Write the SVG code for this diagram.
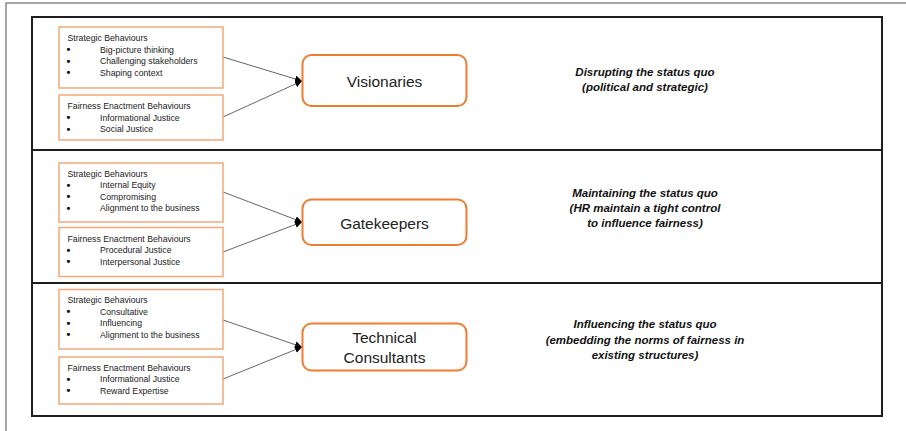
<svg xmlns="http://www.w3.org/2000/svg" width="906" height="431" viewBox="0 0 906 431">
<style>
.frame{fill:none;stroke:#8a8a8a;stroke-width:1.5}
.main{fill:none;stroke:#1e1e1e;stroke-width:2}
.sep{stroke:#1e1e1e;stroke-width:2}
.sbox{fill:#fff;stroke:#F2A878;stroke-width:1.5}
.node{fill:#fff;stroke:#ED7D31;stroke-width:2}
.st{font-family:"Liberation Sans",Arial,sans-serif;font-size:8.7px;fill:#222}
.bu{font-family:"Liberation Sans",Arial,sans-serif;font-size:11px;font-weight:bold;fill:#111}
.nt{font-family:"Liberation Sans",Arial,sans-serif;font-size:15.5px;fill:#222;text-anchor:middle}
.it{font-family:"Liberation Sans",Arial,sans-serif;font-size:11.5px;font-weight:bold;font-style:italic;fill:#111;text-anchor:middle}
.conn{stroke:#666;stroke-width:1;fill:none;marker-end:url(#ah)}
</style>
<defs>
<marker id="ah" viewBox="0 0 10 10" refX="10" refY="5" markerWidth="7" markerHeight="7" markerUnits="userSpaceOnUse" orient="auto">
<path d="M0,0 L10,5 L0,10 z" fill="#000"/>
</marker>
</defs>
<rect width="906" height="431" fill="#fff"/>
<rect class="frame" x="6" y="3" width="910" height="440"/>
<rect class="main" x="32" y="17" width="850" height="399"/>
<line class="sep" x1="32" y1="150" x2="882" y2="150"/>
<line class="sep" x1="32" y1="283" x2="882" y2="283"/>

<g id="connectors">
<line class="conn" x1="223" y1="57" x2="302" y2="81"/>
<line class="conn" x1="223" y1="117" x2="302" y2="81"/>
<line class="conn" x1="223" y1="192" x2="302" y2="222"/>
<line class="conn" x1="223" y1="252" x2="302" y2="222"/>
<line class="conn" x1="223" y1="320" x2="302" y2="347"/>
<line class="conn" x1="223" y1="379" x2="302" y2="347"/>
</g>

<g id="s1-strategic">
<rect class="sbox" x="59" y="27" width="164" height="61"/>
<text class="st" x="67.5" y="41">Strategic Behaviours</text>
<text class="bu" x="66.5" y="53">•</text><text class="st" x="100" y="52.5">Big-picture thinking</text>
<text class="bu" x="66.5" y="64.5">•</text><text class="st" x="100" y="64">Challenging stakeholders</text>
<text class="bu" x="66.5" y="76">•</text><text class="st" x="100" y="75.5">Shaping context</text>
</g>
<g id="s1-fairness">
<rect class="sbox" x="59" y="95" width="164" height="45"/>
<text class="st" x="67.5" y="109">Fairness Enactment Behaviours</text>
<text class="bu" x="66.5" y="121">•</text><text class="st" x="100" y="120.5">Informational Justice</text>
<text class="bu" x="66.5" y="132.5">•</text><text class="st" x="100" y="132">Social Justice</text>
</g>
<g id="visionaries">
<rect class="node" x="302.5" y="55" width="164" height="51" rx="9"/>
<text class="nt" x="384.5" y="87">Visionaries</text>
</g>
<g id="s1-label">
<text class="it" x="645" y="76">Disrupting the status quo</text>
<text class="it" x="645" y="91">(political and strategic)</text>
</g>

<g id="s2-strategic">
<rect class="sbox" x="59" y="163" width="164" height="59"/>
<text class="st" x="67.5" y="176.5">Strategic Behaviours</text>
<text class="bu" x="66.5" y="188.5">•</text><text class="st" x="100" y="188">Internal Equity</text>
<text class="bu" x="66.5" y="200">•</text><text class="st" x="100" y="199.5">Compromising</text>
<text class="bu" x="66.5" y="211.5">•</text><text class="st" x="100" y="211">Alignment to the business</text>
</g>
<g id="s2-fairness">
<rect class="sbox" x="59" y="227.5" width="164" height="49"/>
<text class="st" x="67.5" y="241.5">Fairness Enactment Behaviours</text>
<text class="bu" x="66.5" y="253.5">•</text><text class="st" x="100" y="253">Procedural Justice</text>
<text class="bu" x="66.5" y="265">•</text><text class="st" x="100" y="264.5">Interpersonal Justice</text>
</g>
<g id="gatekeepers">
<rect class="node" x="302.5" y="199.5" width="164" height="45.5" rx="9"/>
<text class="nt" x="384.5" y="228.5">Gatekeepers</text>
</g>
<g id="s2-label">
<text class="it" x="645" y="196.5">Maintaining the status quo</text>
<text class="it" x="645" y="211.5">(HR maintain a tight control</text>
<text class="it" x="645" y="226.5">to influence fairness)</text>
</g>

<g id="s3-strategic">
<rect class="sbox" x="59" y="289.5" width="164" height="59.5"/>
<text class="st" x="67.5" y="302.5">Strategic Behaviours</text>
<text class="bu" x="66.5" y="315">•</text><text class="st" x="100" y="314.5">Consultative</text>
<text class="bu" x="66.5" y="326.5">•</text><text class="st" x="100" y="326">Influencing</text>
<text class="bu" x="66.5" y="338">•</text><text class="st" x="100" y="337.5">Alignment to the business</text>
</g>
<g id="s3-fairness">
<rect class="sbox" x="59" y="357" width="164" height="47"/>
<text class="st" x="67.5" y="370.5">Fairness Enactment Behaviours</text>
<text class="bu" x="66.5" y="382.5">•</text><text class="st" x="100" y="382">Informational Justice</text>
<text class="bu" x="66.5" y="394">•</text><text class="st" x="100" y="393.5">Reward Expertise</text>
</g>
<g id="technical-consultants">
<rect class="node" x="302.5" y="323.5" width="164" height="47" rx="9"/>
<text class="nt" x="384.5" y="343">Technical</text>
<text class="nt" x="384.5" y="363">Consultants</text>
</g>
<g id="s3-label">
<text class="it" x="645" y="328">Influencing the status quo</text>
<text class="it" x="645" y="343.5">(embedding the norms of fairness in</text>
<text class="it" x="645" y="359">existing structures)</text>
</g>
</svg>
